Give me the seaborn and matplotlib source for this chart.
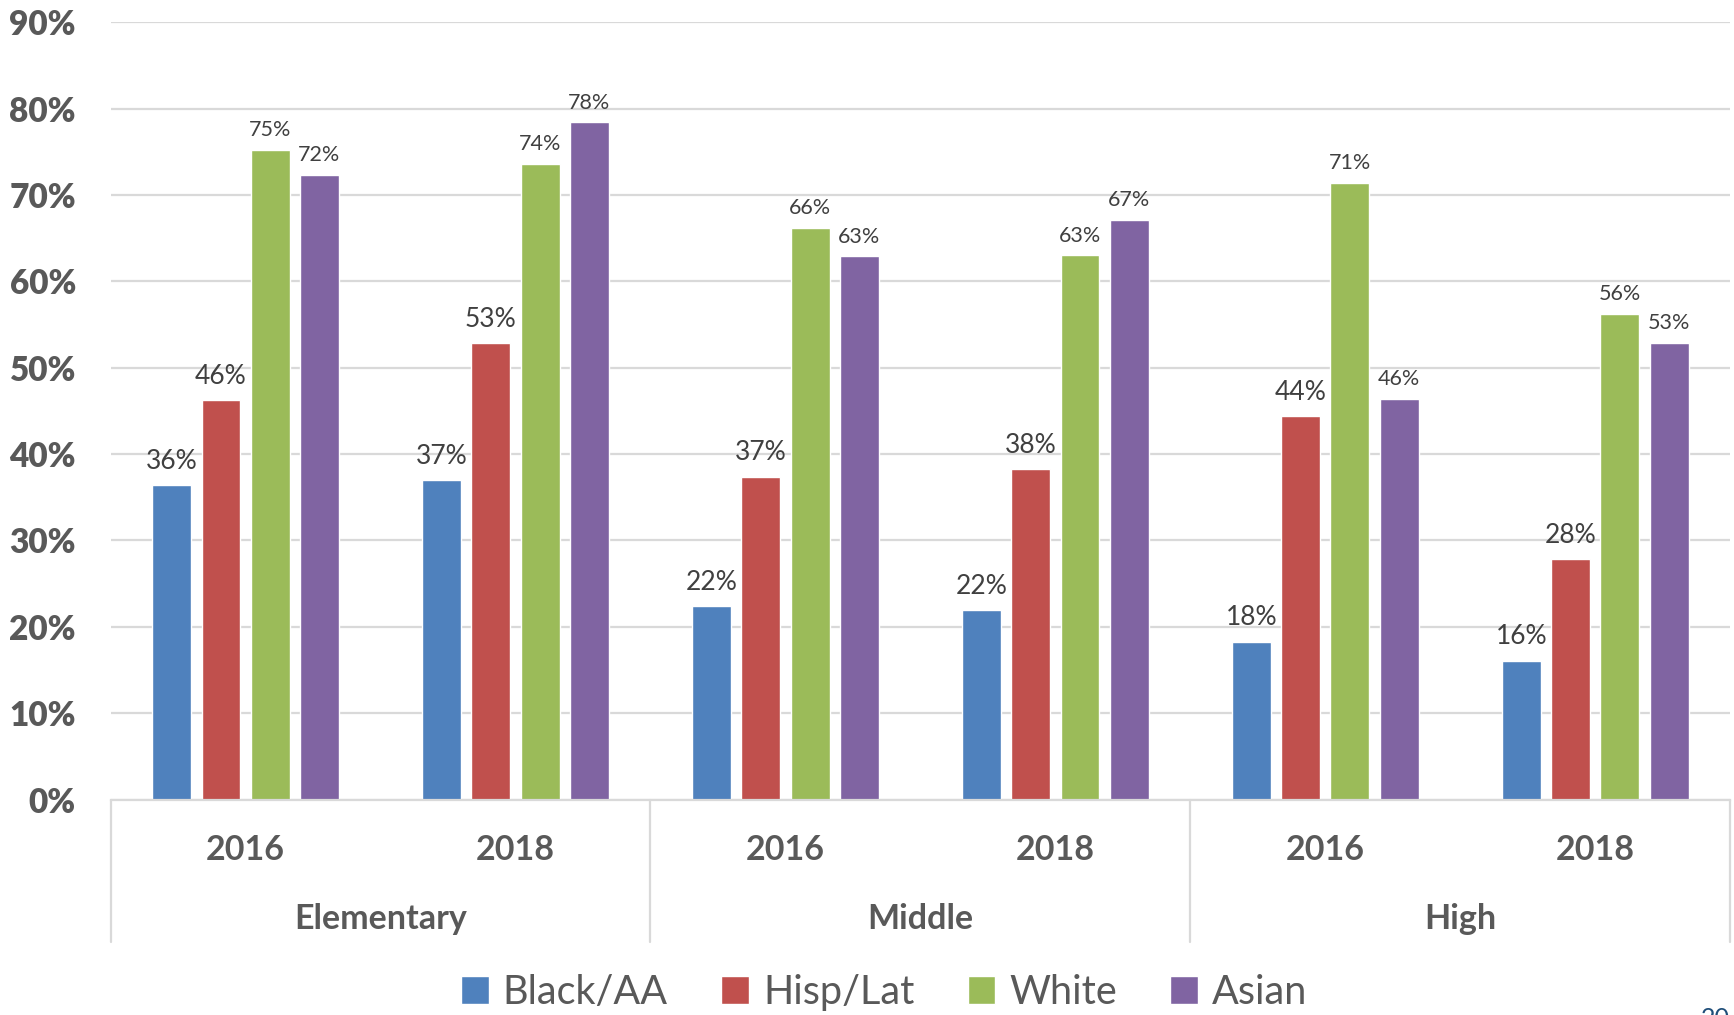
import numpy as np
import pandas as pd
import matplotlib.pyplot as plt
import matplotlib.transforms as mtransforms
import seaborn as sns

# data
levels = ["Elementary", "Middle", "High"]
years = ["2016", "2018"]
races = ["Black/AA", "Hisp/Lat", "White", "Asian"]
black = [36.4, 37.0, 22.4, 21.9, 18.3, 16.1]
hisp = [46.3, 52.9, 37.4, 38.3, 44.4, 27.8]
white = [75.2, 73.6, 66.2, 63.0, 71.4, 56.2]
asian = [72.3, 78.4, 62.9, 67.1, 46.4, 52.9]
colors = ["#4F81BD", "#C0504D", "#9BBB59", "#8064A2"]

cats = [f"{lv} {yr}" for lv in levels for yr in years]
rows = []
for race, vals in zip(races, [black, hisp, white, asian]):
    for c, v in zip(cats, vals):
        rows.append({"cat": c, "race": race, "value": v})
df = pd.DataFrame(rows)

sns.set_style("white")
plt.rcParams['font.family'] = ['Lato', 'DejaVu Sans']

fig = plt.figure(figsize=(17.34, 10.15), dpi=100)
ax = fig.add_axes([0.0638, 0.2122, 0.934, 0.766])

sns.barplot(data=df, x="cat", y="value", hue="race", order=cats, hue_order=races,
            palette=colors, width=0.73, gap=0.21, ax=ax, legend=True, saturation=1)

ax.set_ylim(0, 90)
ax.set_xlim(-0.5, 5.5)
ax.set_yticks(range(0, 91, 10))
ax.set_yticklabels([f"{t}%" for t in range(0, 91, 10)], fontsize=24,
                   fontweight="heavy", color="#595959")
ax.yaxis.grid(True, color="#D9D9D9", linewidth=1.6)
ax.set_axisbelow(True)
for s in ["top", "right", "left"]:
    ax.spines[s].set_visible(False)
ax.spines["bottom"].set_color("#D9D9D9")
ax.spines["bottom"].set_linewidth(1.6)
ax.tick_params(axis="both", length=0)
ax.tick_params(axis="y", pad=25)
ax.set_xticks(range(len(cats)))
ax.set_xticklabels([yr for lv in levels for yr in years], fontsize=24.5,
                   fontweight="bold", color="#595959")
ax.tick_params(axis="x", pad=25)
ax.set_xlabel("")
ax.set_ylabel("")

# data labels
for i, cont in enumerate(ax.containers):
    size = 19 if i < 2 else 15.5
    ax.bar_label(cont, labels=[f"{v:.0f}%" for v in cont.datavalues],
                 padding=8 if i < 2 else 7, fontsize=size, color="#404040")

# group labels and separators
trans = mtransforms.blended_transform_factory(ax.transData, ax.transAxes)
for k, lv in enumerate(levels):
    ax.text(2 * k + 0.5, -0.153, lv, transform=trans, ha="center", va="center",
            fontsize=24.5, fontweight="bold", color="#595959")
for xs in [-0.5, 1.5, 3.5, 5.5]:
    ax.plot([xs, xs], [0, -0.183], transform=trans, color="#D9D9D9",
            linewidth=1.6, clip_on=False)

# legend
handles, labels = ax.get_legend_handles_labels()
ax.legend(handles, labels, loc="center", bbox_to_anchor=(0.51, 0.022),
          bbox_transform=fig.transFigure, ncol=4, frameon=False, fontsize=28.5,
          labelcolor="#595959", handlelength=0.7, handleheight=0.7,
          handletextpad=0.35, columnspacing=1.35)

fig.text(0.981, 0.008, "20", fontsize=18, color="#1F4E79", ha="left", va="top")

fig.savefig("out.png", dpi=100)
